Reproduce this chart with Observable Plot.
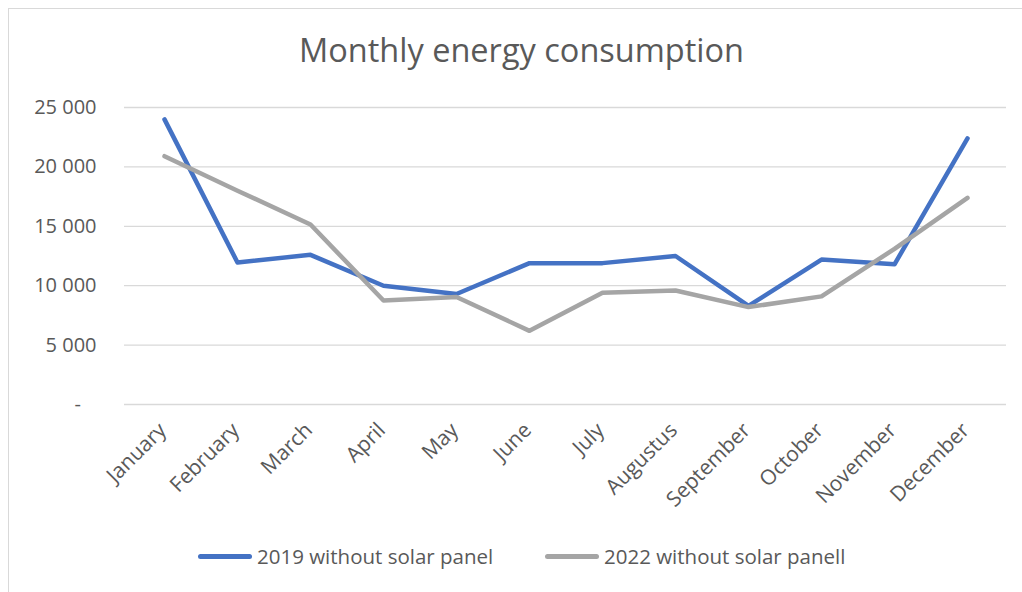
<!DOCTYPE html>
<html>
<head>
<meta charset="utf-8">
<script src="https://cdn.jsdelivr.net/npm/d3@7"></script>
<script src="https://cdn.jsdelivr.net/npm/@observablehq/plot@0.6"></script>
<style>
  html, body { margin: 0; padding: 0; background: #fff; }
  #wrap { position: relative; width: 1022px; height: 592px; overflow: hidden; font-family: "Open Sans", sans-serif; color: #595959; }
  #frame { position: absolute; left: 8px; top: 8px; width: 1020px; height: 600px; border: 1px solid #d9d9d9; box-sizing: border-box; }
  #title { position: absolute; left: 0; width: 1043px; top: 28px; text-align: center; font-size: 32.5px; line-height: 44px; color: #595959; white-space: nowrap; }
  #chart { position: absolute; left: 0; top: 0; }
  #legend { position: absolute; top: 541px; left: 0; width: 1022px; font-size: 20.5px; line-height: 30px; color: #595959; }
  .item { position: absolute; display: flex; align-items: center; white-space: nowrap; }
  .swatch { width: 54px; height: 5px; border-radius: 3px; margin-right: 5px; }
</style>
</head>
<body>
<div id="wrap">
  <div id="frame"></div>
  <div id="chart"></div>
  <div id="title"></div>
  <div id="legend"></div>
</div>
<script>
const titleText = "Monthly energy consumption";
const months = ["January","February","March","April","May","June","July","Augustus","September","October","November","December"];
const series2019 = [24000, 11950, 12600, 10000, 9300, 11900, 11900, 12500, 8300, 12200, 11800, 22400];
const series2022 = [20900, 18000, 15150, 8750, 9050, 6200, 9400, 9600, 8200, 9100, 13100, 17400];
const seriesNames = ["2019 without solar panel", "2022 without solar panell"];
const seriesColors = ["#4472C4", "#A5A5A5"];
const yTicks = [0, 5000, 10000, 15000, 20000, 25000];

const rows = [];
months.forEach((m, i) => {
  rows.push({month: m, value: series2019[i], series: seriesNames[0]});
});
months.forEach((m, i) => {
  rows.push({month: m, value: series2022[i], series: seriesNames[1]});
});

const fmt = d => d === 0 ? "-\u00a0\u00a0\u00a0" : d3.format(",")(d).replace(/,/g, " ");

const chart = Plot.plot({
  width: 1022,
  height: 592,
  marginLeft: 124,
  marginRight: 16,
  marginTop: 107,
  marginBottom: 188,
  style: {fontFamily: "Open Sans, sans-serif", background: "transparent", overflow: "visible"},
  x: {type: "point", domain: months, padding: 0.5},
  y: {domain: [0, 25000]},
  color: {domain: seriesNames, range: seriesColors},
  marks: [
    Plot.gridY(yTicks, {stroke: "#d9d9d9", strokeOpacity: 1, strokeWidth: 1.3}),
    Plot.axisY(yTicks, {tickSize: 0, tickPadding: 28, tickFormat: fmt, fontSize: 20, fill: "#595959", label: null}),
    Plot.axisX({tickSize: 0, tickRotate: -45, tickPadding: 27, fontSize: 21, fill: "#595959", label: null, lineAnchor: "bottom", textAnchor: "end", dx: 3}),
    Plot.lineY(rows, {x: "month", y: "value", z: "series", stroke: "series", strokeWidth: 4.5, strokeLinecap: "round", strokeLinejoin: "round"})
  ]
});
document.getElementById("chart").appendChild(chart);

document.getElementById("title").textContent = titleText;

const legend = document.getElementById("legend");
const lefts = [198, 545];
seriesNames.forEach((name, i) => {
  const item = document.createElement("div");
  item.className = "item";
  item.style.left = lefts[i] + "px";
  const sw = document.createElement("div");
  sw.className = "swatch";
  sw.style.background = seriesColors[i];
  const t = document.createElement("span");
  t.textContent = name;
  item.appendChild(sw);
  item.appendChild(t);
  legend.appendChild(item);
});
</script>
</body>
</html>
